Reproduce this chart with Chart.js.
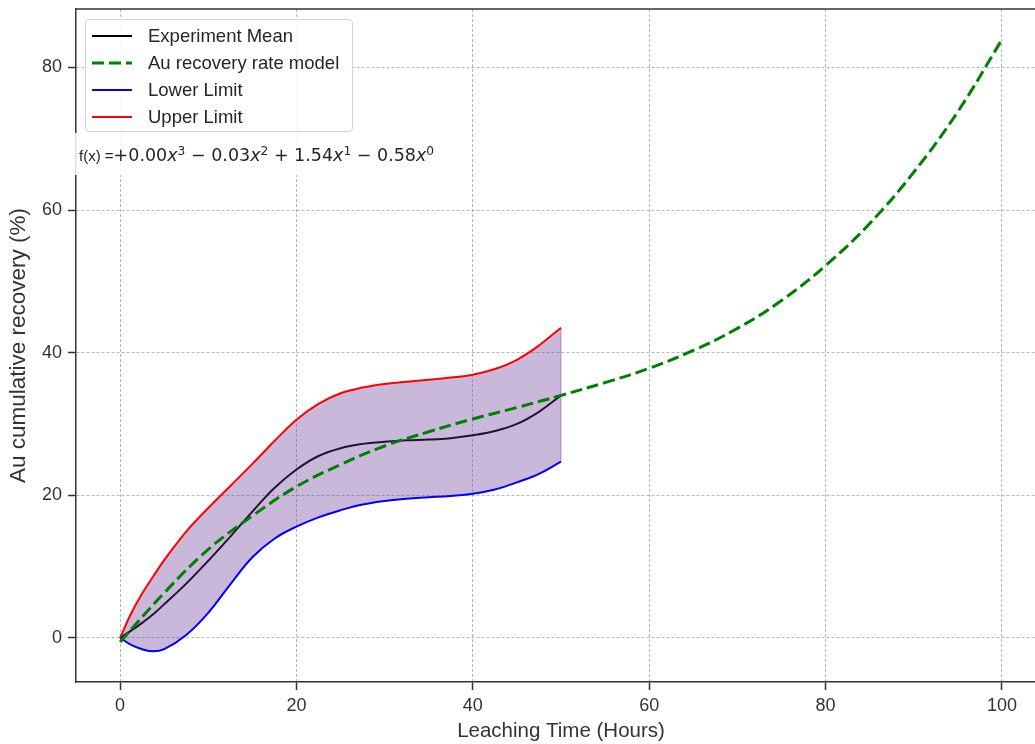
<!DOCTYPE html>
<html>
<head>
<meta charset="utf-8">
<script src="https://cdn.jsdelivr.net/npm/chart.js@4.4.1/dist/chart.umd.min.js"></script>
<style>
  html, body { margin: 0; padding: 0; background: #fff; overflow: hidden; }
  #wrap { position: relative; width: 1047px; height: 744px; }
  #legendBox {
    position: absolute; left: 85px; top: 19px; width: 266px; height: 111px;
    border: 1px solid #d4d4d4; border-radius: 4px; background: rgba(255,255,255,0.85);
    font-family: "Liberation Sans", Arial, sans-serif; font-size: 18.5px; color: #262626;
  }
  .row { position: absolute; left: 0; height: 24px; display: flex; align-items: center; }
  .row svg { margin-left: 6px; margin-right: 16px; }
  #formula {
    position: absolute; left: 72px; top: 133px; height: 42px; line-height: 44px;
    padding: 0 8px 0 7px; background: rgba(255,255,255,0.85); white-space: nowrap;
    font-family: "DejaVu Sans", sans-serif; font-size: 17.5px; color: #262626;
  }
  #formula .fx { font-family: "Liberation Sans", Arial, sans-serif; font-size: 15px; }
  #formula sup { font-size: 0.7em; vertical-align: 0.5em; line-height: 0; }
</style>
</head>
<body>
<div id="wrap">
  <canvas id="chart" width="1047" height="744"></canvas>
  <div id="legendBox"></div>
  <div id="formula"><span class="fx">f(x) =</span>+0.00<i>x</i><sup>3</sup> − 0.03<i>x</i><sup>2</sup> + 1.54<i>x</i><sup>1</sup> − 0.58<i>x</i><sup>0</sup></div>
</div>
<script>
// values
const hours = [0, 1.25, 2.5, 3.75, 5, 7.5, 10, 12.5, 15, 17.5, 20, 22.5, 25, 27.5, 30, 32.5, 35, 37.5, 40, 42.5, 45, 47.5, 50];
const meanRecovery = [0, 1.0, 2.1, 3.3, 4.7, 7.6, 10.8, 14.2, 17.7, 21.0, 23.6, 25.5, 26.6, 27.2, 27.5, 27.7, 27.8, 28.0, 28.4, 29.0, 30.0, 31.7, 34.0];
const upperLimit = [0, 3.4, 6.2, 8.6, 10.9, 14.9, 18.2, 21.3, 24.4, 27.6, 30.6, 32.8, 34.3, 35.1, 35.6, 35.9, 36.2, 36.5, 36.9, 37.7, 39.0, 41.0, 43.5];
const lowerLimit = [0, -1.0, -1.6, -1.9, -1.6, 0.4, 3.5, 7.5, 11.3, 13.9, 15.6, 16.9, 17.9, 18.7, 19.2, 19.5, 19.7, 19.9, 20.2, 20.8, 21.8, 23.0, 24.7];

const modelHours = [0, 5, 10, 15, 20, 25, 30, 35, 40, 45, 50, 55, 60, 65, 70, 75, 80, 85, 90, 95, 100];
const modelRecovery = [-0.6, 6.3, 12.4, 17.1, 21.2, 24.3, 26.9, 28.9, 30.7, 32.3, 34.0, 35.8, 37.8, 40.3, 43.4, 47.3, 52.2, 58.1, 65.3, 73.8, 83.9];

const xTicks = [0, 20, 40, 60, 80, 100];
const yTicks = [0, 20, 40, 60, 80];

const seriesLabels = ["Experiment Mean", "Au recovery rate model", "Lower Limit", "Upper Limit"];

const fontFamily = '"Liberation Sans", Arial, sans-serif';
const textColor = "#333";
const gridColor = "rgba(105,120,145,0.65)";
const bandColor = "rgba(102,51,153,0.35)";

function points(xs, ys) {
    return xs.map((x, i) => ({ x: x, y: ys[i] }));
}

const last = hours.length - 1;

const datasets = [
    { label: seriesLabels[0], data: points(hours, meanRecovery), borderColor: "#000000", borderWidth: 2, order: 5 },
    { label: seriesLabels[1], data: points(modelHours, modelRecovery), borderColor: "#008000", borderWidth: 3, borderDash: [12, 5], order: 1 },
    { label: seriesLabels[2], data: points(hours, lowerLimit), borderColor: "#0000ff", borderWidth: 2, order: 2 },
    { label: seriesLabels[3], data: points(hours, upperLimit), borderColor: "#ff0000", borderWidth: 2, order: 3,
      fill: { target: 2, above: bandColor, below: bandColor } },
    // closing edge of the shaded band
    { label: "edge", data: [{ x: hours[last], y: lowerLimit[last] }, { x: hours[last], y: upperLimit[last] }],
      borderColor: "rgba(102,51,153,0.45)", borderWidth: 1, order: 4 }
];

// top and right spines
const framePlugin = {
    id: "frame",
    afterDatasetsDraw(chart) {
        const { ctx, chartArea: a } = chart;
        ctx.save();
        ctx.strokeStyle = textColor;
        ctx.lineWidth = 1.5;
        ctx.beginPath();
        ctx.moveTo(a.left, a.top);
        ctx.lineTo(a.right, a.top);
        ctx.lineTo(a.right, a.bottom);
        ctx.stroke();
        ctx.restore();
    }
};

function axisGrid() {
    return { color: gridColor, lineWidth: 0.8, tickColor: textColor, tickLength: 8, tickWidth: 1.5 };
}

function noPad(s) {
    s.paddingTop = 0; s.paddingBottom = 0; s.paddingLeft = 0; s.paddingRight = 0;
}

const chart = new Chart(document.getElementById("chart").getContext("2d"), {
    type: "line",
    data: { datasets: datasets },
    plugins: [framePlugin],
    options: {
        responsive: false,
        animation: false,
        devicePixelRatio: 1,
        events: [],
        layout: { padding: { top: 9, right: 1, left: 0, bottom: 0 } },
        elements: {
            point: { radius: 0 },
            line: { tension: 0.4, fill: false }
        },
        plugins: {
            legend: { display: false },
            tooltip: { enabled: false }
        },
        scales: {
            x: {
                type: "linear", min: -5, max: 105,
                afterBuildTicks: s => { s.ticks = xTicks.map(v => ({ value: v })); },
                afterFit: s => { s.height = 62; noPad(s); },
                grid: axisGrid(),
                border: { display: true, color: textColor, width: 1.5, dash: [3, 2] },
                ticks: { color: textColor, font: { family: fontFamily, size: 18 }, padding: 5, maxRotation: 0 },
                title: { display: true, text: "Leaching Time (Hours)", color: textColor,
                         font: { family: fontFamily, size: 20.5 }, padding: { top: 0, bottom: 0 } }
            },
            y: {
                type: "linear", min: -6.2, max: 88.2,
                afterBuildTicks: s => { s.ticks = yTicks.map(v => ({ value: v })); },
                afterFit: s => { s.width = 76; noPad(s); },
                grid: axisGrid(),
                border: { display: true, color: textColor, width: 1.5, dash: [3, 2] },
                ticks: { color: textColor, font: { family: fontFamily, size: 18 }, padding: 6 },
                title: { display: true, text: "Au cumulative recovery (%)", color: textColor,
                         font: { family: fontFamily, size: 22.5 }, padding: { top: 5, bottom: 0 } }
            }
        }
    }
});

// legend drawn as html, from the chart's own datasets
const legendBox = document.getElementById("legendBox");
chart.data.datasets.slice(0, 4).forEach((ds, i) => {
    const row = document.createElement("div");
    row.className = "row";
    row.style.top = (4 + i * 27) + "px";
    const dash = ds.borderDash ? ds.borderDash.join(" ") : "";
    row.innerHTML =
        '<svg width="40" height="8"><line x1="0" y1="4" x2="40" y2="4" stroke="' + ds.borderColor +
        '" stroke-width="' + ds.borderWidth + '" stroke-dasharray="' + dash + '"/></svg>' +
        "<span>" + ds.label + "</span>";
    legendBox.appendChild(row);
});
</script>
</body>
</html>
